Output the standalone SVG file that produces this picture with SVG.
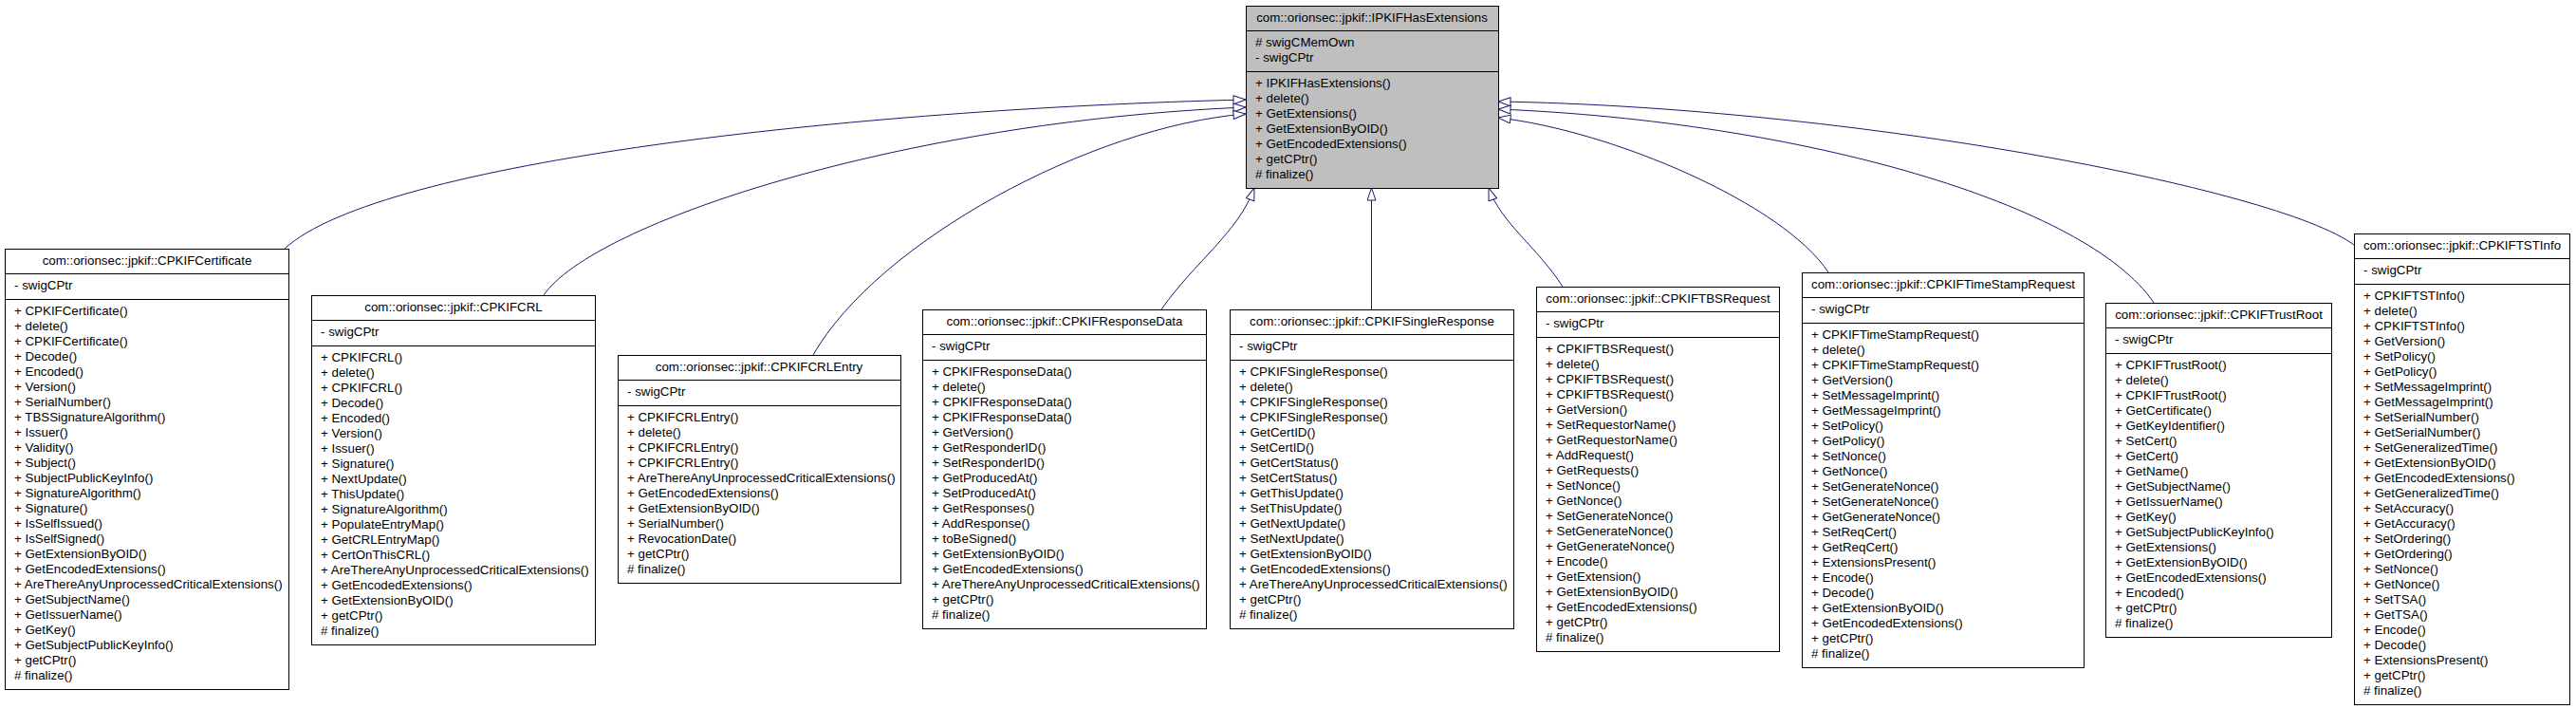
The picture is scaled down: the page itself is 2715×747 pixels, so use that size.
<svg xmlns="http://www.w3.org/2000/svg" width="2715" height="747" viewBox="0 0 2715 747">
<style>
text{font-family:"Liberation Sans",Arial,Helvetica,sans-serif;font-size:13.33px;fill:#000}
.ttl{text-anchor:middle}
.box{fill:#fff;stroke:#000;stroke-width:1}
.base .box{fill:#bfbfbf}
.sep{stroke:#000;stroke-width:1}
.edge{fill:none;stroke:#191970;stroke-width:1}
</style>
<defs>
<marker id="ah" markerWidth="16" markerHeight="12" refX="14" refY="5" orient="auto" markerUnits="userSpaceOnUse">
<path d="M1,0.5 L14,5 L1,9.5 Z" fill="#fff" stroke="#191970" stroke-width="1"/>
</marker>
</defs>
<rect x="0" y="0" width="2715" height="747" fill="#fff"/>

<g id="connectors">
<path class="edge" marker-end="url(#ah)" d="M300,262 C400,170 900,115 1313,105"/>
<path class="edge" marker-end="url(#ah)" d="M573,311 C625,235 950,128 1313,113"/>
<path class="edge" marker-end="url(#ah)" d="M857,374 C925,255 1150,133 1313,120"/>
<path class="edge" marker-end="url(#ah)" d="M1224,326 C1260,275 1305,245 1322,198"/>
<path class="edge" marker-end="url(#ah)" d="M1445.5,326 L1445.5,198"/>
<path class="edge" marker-end="url(#ah)" d="M1647,302 C1620,260 1582,235 1569,198"/>
<path class="edge" marker-end="url(#ah)" d="M1927,287 C1880,215 1700,138 1579,124"/>
<path class="edge" marker-end="url(#ah)" d="M2270,319 C2200,215 1900,128 1579,115"/>
<path class="edge" marker-end="url(#ah)" d="M2481,258 C2400,198 1950,113 1579,107"/>
</g>

<g id="IPKIFHasExtensions" class="base">
<rect class="box" x="1313.5" y="6.5" width="266" height="192"/>
<line class="sep" x1="1313.5" y1="32.5" x2="1579.5" y2="32.5"/>
<line class="sep" x1="1313.5" y1="75.5" x2="1579.5" y2="75.5"/>
<text class="ttl" x="1446" y="23">com::orionsec::jpkif::IPKIFHasExtensions</text>
<text><tspan x="1323" y="49"># swigCMemOwn</tspan><tspan x="1323" dy="16">- swigCPtr</tspan></text>
<text><tspan x="1323" y="92">+ IPKIFHasExtensions()</tspan><tspan x="1323" dy="16">+ delete()</tspan><tspan x="1323" dy="16">+ GetExtensions()</tspan><tspan x="1323" dy="16">+ GetExtensionByOID()</tspan><tspan x="1323" dy="16">+ GetEncodedExtensions()</tspan><tspan x="1323" dy="16">+ getCPtr()</tspan><tspan x="1323" dy="16"># finalize()</tspan></text>
</g>

<g id="CPKIFCertificate">
<rect class="box" x="5.5" y="262.5" width="299" height="464"/>
<line class="sep" x1="5.5" y1="288.5" x2="304.5" y2="288.5"/>
<line class="sep" x1="5.5" y1="315.5" x2="304.5" y2="315.5"/>
<text class="ttl" x="155" y="279">com::orionsec::jpkif::CPKIFCertificate</text>
<text><tspan x="15" y="305">- swigCPtr</tspan></text>
<text><tspan x="15" y="332">+ CPKIFCertificate()</tspan><tspan x="15" dy="16">+ delete()</tspan><tspan x="15" dy="16">+ CPKIFCertificate()</tspan><tspan x="15" dy="16">+ Decode()</tspan><tspan x="15" dy="16">+ Encoded()</tspan><tspan x="15" dy="16">+ Version()</tspan><tspan x="15" dy="16">+ SerialNumber()</tspan><tspan x="15" dy="16">+ TBSSignatureAlgorithm()</tspan><tspan x="15" dy="16">+ Issuer()</tspan><tspan x="15" dy="16">+ Validity()</tspan><tspan x="15" dy="16">+ Subject()</tspan><tspan x="15" dy="16">+ SubjectPublicKeyInfo()</tspan><tspan x="15" dy="16">+ SignatureAlgorithm()</tspan><tspan x="15" dy="16">+ Signature()</tspan><tspan x="15" dy="16">+ IsSelfIssued()</tspan><tspan x="15" dy="16">+ IsSelfSigned()</tspan><tspan x="15" dy="16">+ GetExtensionByOID()</tspan><tspan x="15" dy="16">+ GetEncodedExtensions()</tspan><tspan x="15" dy="16">+ AreThereAnyUnprocessedCriticalExtensions()</tspan><tspan x="15" dy="16">+ GetSubjectName()</tspan><tspan x="15" dy="16">+ GetIssuerName()</tspan><tspan x="15" dy="16">+ GetKey()</tspan><tspan x="15" dy="16">+ GetSubjectPublicKeyInfo()</tspan><tspan x="15" dy="16">+ getCPtr()</tspan><tspan x="15" dy="16"># finalize()</tspan></text>
</g>

<g id="CPKIFCRL">
<rect class="box" x="328.5" y="311.5" width="299" height="368"/>
<line class="sep" x1="328.5" y1="337.5" x2="627.5" y2="337.5"/>
<line class="sep" x1="328.5" y1="364.5" x2="627.5" y2="364.5"/>
<text class="ttl" x="478" y="328">com::orionsec::jpkif::CPKIFCRL</text>
<text><tspan x="338" y="354">- swigCPtr</tspan></text>
<text><tspan x="338" y="381">+ CPKIFCRL()</tspan><tspan x="338" dy="16">+ delete()</tspan><tspan x="338" dy="16">+ CPKIFCRL()</tspan><tspan x="338" dy="16">+ Decode()</tspan><tspan x="338" dy="16">+ Encoded()</tspan><tspan x="338" dy="16">+ Version()</tspan><tspan x="338" dy="16">+ Issuer()</tspan><tspan x="338" dy="16">+ Signature()</tspan><tspan x="338" dy="16">+ NextUpdate()</tspan><tspan x="338" dy="16">+ ThisUpdate()</tspan><tspan x="338" dy="16">+ SignatureAlgorithm()</tspan><tspan x="338" dy="16">+ PopulateEntryMap()</tspan><tspan x="338" dy="16">+ GetCRLEntryMap()</tspan><tspan x="338" dy="16">+ CertOnThisCRL()</tspan><tspan x="338" dy="16">+ AreThereAnyUnprocessedCriticalExtensions()</tspan><tspan x="338" dy="16">+ GetEncodedExtensions()</tspan><tspan x="338" dy="16">+ GetExtensionByOID()</tspan><tspan x="338" dy="16">+ getCPtr()</tspan><tspan x="338" dy="16"># finalize()</tspan></text>
</g>

<g id="CPKIFCRLEntry">
<rect class="box" x="651.5" y="374.5" width="298" height="240"/>
<line class="sep" x1="651.5" y1="400.5" x2="949.5" y2="400.5"/>
<line class="sep" x1="651.5" y1="427.5" x2="949.5" y2="427.5"/>
<text class="ttl" x="800" y="391">com::orionsec::jpkif::CPKIFCRLEntry</text>
<text><tspan x="661" y="417">- swigCPtr</tspan></text>
<text><tspan x="661" y="444">+ CPKIFCRLEntry()</tspan><tspan x="661" dy="16">+ delete()</tspan><tspan x="661" dy="16">+ CPKIFCRLEntry()</tspan><tspan x="661" dy="16">+ CPKIFCRLEntry()</tspan><tspan x="661" dy="16">+ AreThereAnyUnprocessedCriticalExtensions()</tspan><tspan x="661" dy="16">+ GetEncodedExtensions()</tspan><tspan x="661" dy="16">+ GetExtensionByOID()</tspan><tspan x="661" dy="16">+ SerialNumber()</tspan><tspan x="661" dy="16">+ RevocationDate()</tspan><tspan x="661" dy="16">+ getCPtr()</tspan><tspan x="661" dy="16"># finalize()</tspan></text>
</g>

<g id="CPKIFResponseData">
<rect class="box" x="972.5" y="326.5" width="299" height="336"/>
<line class="sep" x1="972.5" y1="352.5" x2="1271.5" y2="352.5"/>
<line class="sep" x1="972.5" y1="379.5" x2="1271.5" y2="379.5"/>
<text class="ttl" x="1122" y="343">com::orionsec::jpkif::CPKIFResponseData</text>
<text><tspan x="982" y="369">- swigCPtr</tspan></text>
<text><tspan x="982" y="396">+ CPKIFResponseData()</tspan><tspan x="982" dy="16">+ delete()</tspan><tspan x="982" dy="16">+ CPKIFResponseData()</tspan><tspan x="982" dy="16">+ CPKIFResponseData()</tspan><tspan x="982" dy="16">+ GetVersion()</tspan><tspan x="982" dy="16">+ GetResponderID()</tspan><tspan x="982" dy="16">+ SetResponderID()</tspan><tspan x="982" dy="16">+ GetProducedAt()</tspan><tspan x="982" dy="16">+ SetProducedAt()</tspan><tspan x="982" dy="16">+ GetResponses()</tspan><tspan x="982" dy="16">+ AddResponse()</tspan><tspan x="982" dy="16">+ toBeSigned()</tspan><tspan x="982" dy="16">+ GetExtensionByOID()</tspan><tspan x="982" dy="16">+ GetEncodedExtensions()</tspan><tspan x="982" dy="16">+ AreThereAnyUnprocessedCriticalExtensions()</tspan><tspan x="982" dy="16">+ getCPtr()</tspan><tspan x="982" dy="16"># finalize()</tspan></text>
</g>

<g id="CPKIFSingleResponse">
<rect class="box" x="1296.5" y="326.5" width="299" height="336"/>
<line class="sep" x1="1296.5" y1="352.5" x2="1595.5" y2="352.5"/>
<line class="sep" x1="1296.5" y1="379.5" x2="1595.5" y2="379.5"/>
<text class="ttl" x="1446" y="343">com::orionsec::jpkif::CPKIFSingleResponse</text>
<text><tspan x="1306" y="369">- swigCPtr</tspan></text>
<text><tspan x="1306" y="396">+ CPKIFSingleResponse()</tspan><tspan x="1306" dy="16">+ delete()</tspan><tspan x="1306" dy="16">+ CPKIFSingleResponse()</tspan><tspan x="1306" dy="16">+ CPKIFSingleResponse()</tspan><tspan x="1306" dy="16">+ GetCertID()</tspan><tspan x="1306" dy="16">+ SetCertID()</tspan><tspan x="1306" dy="16">+ GetCertStatus()</tspan><tspan x="1306" dy="16">+ SetCertStatus()</tspan><tspan x="1306" dy="16">+ GetThisUpdate()</tspan><tspan x="1306" dy="16">+ SetThisUpdate()</tspan><tspan x="1306" dy="16">+ GetNextUpdate()</tspan><tspan x="1306" dy="16">+ SetNextUpdate()</tspan><tspan x="1306" dy="16">+ GetExtensionByOID()</tspan><tspan x="1306" dy="16">+ GetEncodedExtensions()</tspan><tspan x="1306" dy="16">+ AreThereAnyUnprocessedCriticalExtensions()</tspan><tspan x="1306" dy="16">+ getCPtr()</tspan><tspan x="1306" dy="16"># finalize()</tspan></text>
</g>

<g id="CPKIFTBSRequest">
<rect class="box" x="1619.5" y="302.5" width="256" height="384"/>
<line class="sep" x1="1619.5" y1="328.5" x2="1875.5" y2="328.5"/>
<line class="sep" x1="1619.5" y1="355.5" x2="1875.5" y2="355.5"/>
<text class="ttl" x="1747.5" y="319">com::orionsec::jpkif::CPKIFTBSRequest</text>
<text><tspan x="1629" y="345">- swigCPtr</tspan></text>
<text><tspan x="1629" y="372">+ CPKIFTBSRequest()</tspan><tspan x="1629" dy="16">+ delete()</tspan><tspan x="1629" dy="16">+ CPKIFTBSRequest()</tspan><tspan x="1629" dy="16">+ CPKIFTBSRequest()</tspan><tspan x="1629" dy="16">+ GetVersion()</tspan><tspan x="1629" dy="16">+ SetRequestorName()</tspan><tspan x="1629" dy="16">+ GetRequestorName()</tspan><tspan x="1629" dy="16">+ AddRequest()</tspan><tspan x="1629" dy="16">+ GetRequests()</tspan><tspan x="1629" dy="16">+ SetNonce()</tspan><tspan x="1629" dy="16">+ GetNonce()</tspan><tspan x="1629" dy="16">+ SetGenerateNonce()</tspan><tspan x="1629" dy="16">+ SetGenerateNonce()</tspan><tspan x="1629" dy="16">+ GetGenerateNonce()</tspan><tspan x="1629" dy="16">+ Encode()</tspan><tspan x="1629" dy="16">+ GetExtension()</tspan><tspan x="1629" dy="16">+ GetExtensionByOID()</tspan><tspan x="1629" dy="16">+ GetEncodedExtensions()</tspan><tspan x="1629" dy="16">+ getCPtr()</tspan><tspan x="1629" dy="16"># finalize()</tspan></text>
</g>

<g id="CPKIFTimeStampRequest">
<rect class="box" x="1899.5" y="287.5" width="297" height="416"/>
<line class="sep" x1="1899.5" y1="313.5" x2="2196.5" y2="313.5"/>
<line class="sep" x1="1899.5" y1="340.5" x2="2196.5" y2="340.5"/>
<text class="ttl" x="2048" y="304">com::orionsec::jpkif::CPKIFTimeStampRequest</text>
<text><tspan x="1909" y="330">- swigCPtr</tspan></text>
<text><tspan x="1909" y="357">+ CPKIFTimeStampRequest()</tspan><tspan x="1909" dy="16">+ delete()</tspan><tspan x="1909" dy="16">+ CPKIFTimeStampRequest()</tspan><tspan x="1909" dy="16">+ GetVersion()</tspan><tspan x="1909" dy="16">+ SetMessageImprint()</tspan><tspan x="1909" dy="16">+ GetMessageImprint()</tspan><tspan x="1909" dy="16">+ SetPolicy()</tspan><tspan x="1909" dy="16">+ GetPolicy()</tspan><tspan x="1909" dy="16">+ SetNonce()</tspan><tspan x="1909" dy="16">+ GetNonce()</tspan><tspan x="1909" dy="16">+ SetGenerateNonce()</tspan><tspan x="1909" dy="16">+ SetGenerateNonce()</tspan><tspan x="1909" dy="16">+ GetGenerateNonce()</tspan><tspan x="1909" dy="16">+ SetReqCert()</tspan><tspan x="1909" dy="16">+ GetReqCert()</tspan><tspan x="1909" dy="16">+ ExtensionsPresent()</tspan><tspan x="1909" dy="16">+ Encode()</tspan><tspan x="1909" dy="16">+ Decode()</tspan><tspan x="1909" dy="16">+ GetExtensionByOID()</tspan><tspan x="1909" dy="16">+ GetEncodedExtensions()</tspan><tspan x="1909" dy="16">+ getCPtr()</tspan><tspan x="1909" dy="16"># finalize()</tspan></text>
</g>

<g id="CPKIFTrustRoot">
<rect class="box" x="2219.5" y="319.5" width="238" height="352"/>
<line class="sep" x1="2219.5" y1="345.5" x2="2457.5" y2="345.5"/>
<line class="sep" x1="2219.5" y1="372.5" x2="2457.5" y2="372.5"/>
<text class="ttl" x="2338.5" y="336">com::orionsec::jpkif::CPKIFTrustRoot</text>
<text><tspan x="2229" y="362">- swigCPtr</tspan></text>
<text><tspan x="2229" y="389">+ CPKIFTrustRoot()</tspan><tspan x="2229" dy="16">+ delete()</tspan><tspan x="2229" dy="16">+ CPKIFTrustRoot()</tspan><tspan x="2229" dy="16">+ GetCertificate()</tspan><tspan x="2229" dy="16">+ GetKeyIdentifier()</tspan><tspan x="2229" dy="16">+ SetCert()</tspan><tspan x="2229" dy="16">+ GetCert()</tspan><tspan x="2229" dy="16">+ GetName()</tspan><tspan x="2229" dy="16">+ GetSubjectName()</tspan><tspan x="2229" dy="16">+ GetIssuerName()</tspan><tspan x="2229" dy="16">+ GetKey()</tspan><tspan x="2229" dy="16">+ GetSubjectPublicKeyInfo()</tspan><tspan x="2229" dy="16">+ GetExtensions()</tspan><tspan x="2229" dy="16">+ GetExtensionByOID()</tspan><tspan x="2229" dy="16">+ GetEncodedExtensions()</tspan><tspan x="2229" dy="16">+ Encoded()</tspan><tspan x="2229" dy="16">+ getCPtr()</tspan><tspan x="2229" dy="16"># finalize()</tspan></text>
</g>

<g id="CPKIFTSTInfo">
<rect class="box" x="2481.5" y="246.5" width="227" height="496"/>
<line class="sep" x1="2481.5" y1="272.5" x2="2708.5" y2="272.5"/>
<line class="sep" x1="2481.5" y1="299.5" x2="2708.5" y2="299.5"/>
<text class="ttl" x="2595" y="263">com::orionsec::jpkif::CPKIFTSTInfo</text>
<text><tspan x="2491" y="289">- swigCPtr</tspan></text>
<text><tspan x="2491" y="316">+ CPKIFTSTInfo()</tspan><tspan x="2491" dy="16">+ delete()</tspan><tspan x="2491" dy="16">+ CPKIFTSTInfo()</tspan><tspan x="2491" dy="16">+ GetVersion()</tspan><tspan x="2491" dy="16">+ SetPolicy()</tspan><tspan x="2491" dy="16">+ GetPolicy()</tspan><tspan x="2491" dy="16">+ SetMessageImprint()</tspan><tspan x="2491" dy="16">+ GetMessageImprint()</tspan><tspan x="2491" dy="16">+ SetSerialNumber()</tspan><tspan x="2491" dy="16">+ GetSerialNumber()</tspan><tspan x="2491" dy="16">+ SetGeneralizedTime()</tspan><tspan x="2491" dy="16">+ GetExtensionByOID()</tspan><tspan x="2491" dy="16">+ GetEncodedExtensions()</tspan><tspan x="2491" dy="16">+ GetGeneralizedTime()</tspan><tspan x="2491" dy="16">+ SetAccuracy()</tspan><tspan x="2491" dy="16">+ GetAccuracy()</tspan><tspan x="2491" dy="16">+ SetOrdering()</tspan><tspan x="2491" dy="16">+ GetOrdering()</tspan><tspan x="2491" dy="16">+ SetNonce()</tspan><tspan x="2491" dy="16">+ GetNonce()</tspan><tspan x="2491" dy="16">+ SetTSA()</tspan><tspan x="2491" dy="16">+ GetTSA()</tspan><tspan x="2491" dy="16">+ Encode()</tspan><tspan x="2491" dy="16">+ Decode()</tspan><tspan x="2491" dy="16">+ ExtensionsPresent()</tspan><tspan x="2491" dy="16">+ getCPtr()</tspan><tspan x="2491" dy="16"># finalize()</tspan></text>
</g>
</svg>
